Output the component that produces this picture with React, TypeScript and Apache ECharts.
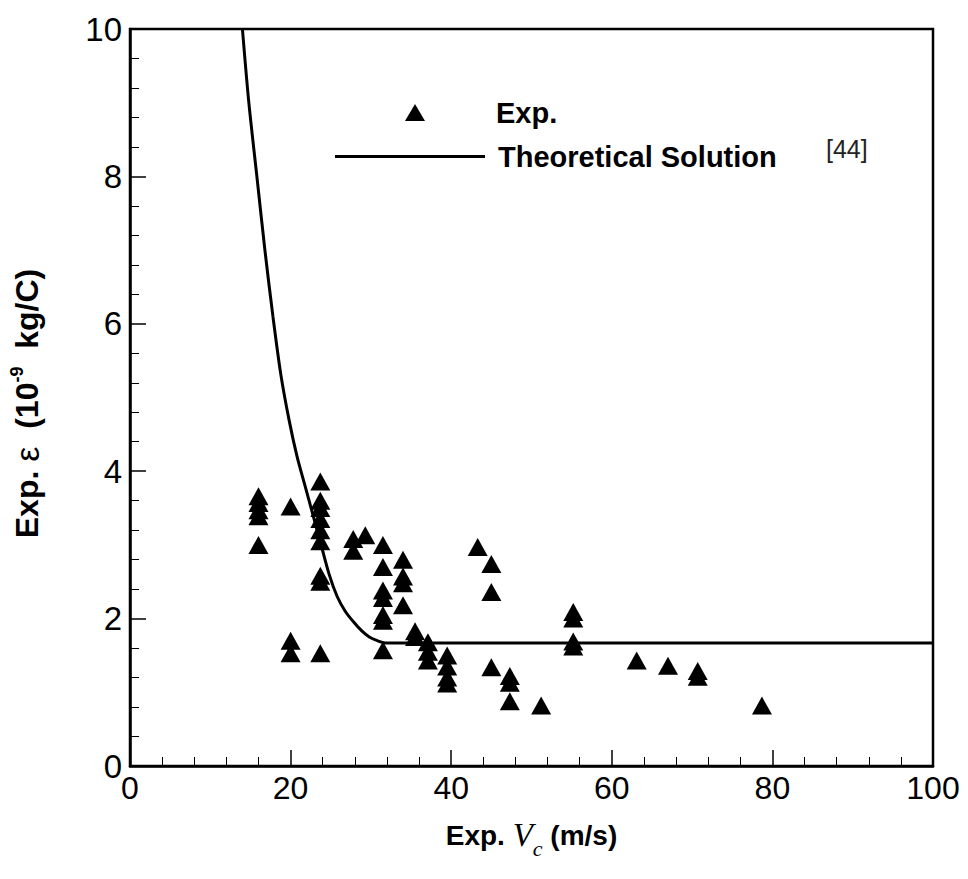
import React, { useEffect, useRef } from "react";
import * as echarts from "echarts";

// Experimental points: x = Exp. Vc (m/s), y = Exp. epsilon (1e-9 kg/C)
const expX: number[] = [
  16, 16, 16, 16, 16,
  20, 20, 20,
  23.7, 23.7, 23.7, 23.7, 23.7, 23.7, 23.7, 23.7, 23.7,
  27.8, 27.8, 29.3,
  31.5, 31.5, 31.5, 31.5, 31.5, 31.5, 31.5,
  34, 34, 34, 34,
  35.5, 35.5,
  37.1, 37.1, 37.1,
  39.5, 39.5, 39.5, 39.5,
  43.3, 45, 45, 45,
  47.3, 47.3, 47.3,
  51.2,
  55.2, 55.2, 55.2, 55.2,
  63.1, 67, 70.7, 70.7, 78.7,
];
const expY: number[] = [
  3.66, 3.57, 3.47, 3.39, 3.0,
  3.52, 1.7, 1.53,
  3.86, 3.6, 3.5, 3.35, 3.2, 3.05, 2.58, 2.5, 1.53,
  3.08, 2.92, 3.13,
  3.0, 2.7, 2.38, 2.28, 2.05, 1.97, 1.57,
  2.8, 2.57, 2.48, 2.18,
  1.83, 1.75,
  1.68, 1.55, 1.43,
  1.5, 1.35, 1.2, 1.12,
  2.97, 2.74, 2.36, 1.34,
  1.22, 1.13, 0.88,
  0.82,
  2.09, 2.0, 1.69, 1.62,
  1.43, 1.36, 1.29, 1.21, 0.82,
];

// Theoretical solution curve
const theoX: number[] = [
  14.0, 14.8, 15.8, 16.8, 17.8, 18.8, 19.8, 20.8, 21.8, 22.8, 23.8, 24.8,
  25.8, 26.8, 27.8, 28.8, 29.8, 30.8, 31.8, 100,
];
const theoY: number[] = [
  10, 9.0, 8.0, 7.0, 6.1, 5.3, 4.7, 4.2, 3.8, 3.4, 3.0, 2.6,
  2.3, 2.1, 1.96, 1.84, 1.75, 1.7, 1.67, 1.67,
];

const xTicks = { min: 0, max: 100, interval: 20 };
const yTicks = { min: 0, max: 10, interval: 2 };

export default function App() {
  const ref = useRef<HTMLDivElement>(null);
  useEffect(() => {
    if (!ref.current) return;
    const chart = echarts.init(ref.current, undefined, { renderer: "svg" });
    const font = "Liberation Sans, Arial, sans-serif";
    const legendText = {
      fontFamily: font,
      fontWeight: "bold",
      fontSize: 29,
      color: "#000",
    };
    const option: any = {
      animation: false,
      backgroundColor: "#fff",
      grid: {
        left: 130,
        right: 35,
        top: 29,
        bottom: 113,
        show: true,
        borderColor: "#000",
        borderWidth: 2.5,
        backgroundColor: "transparent",
      },
      legend: [
        {
          orient: "vertical",
          left: 400,
          top: 93,
          itemWidth: 20,
          itemHeight: 17,
          selectedMode: false,
          textStyle: { ...legendText, padding: [0, 0, 0, 66] },
          data: [{ name: "Exp.", icon: "triangle" }],
        },
        {
          orient: "vertical",
          left: 330,
          top: 137,
          itemWidth: 150,
          itemHeight: 3,
          selectedMode: false,
          textStyle: { ...legendText, padding: [0, 0, 0, 8] },
          data: [{ name: "Theoretical Solution", icon: "rect" }],
        },
      ],
      xAxis: {
        type: "value",
        min: xTicks.min,
        max: xTicks.max,
        interval: xTicks.interval,
        name: "{a|Exp. }{v|V}{s|c}{a| (m/s)}",
        nameLocation: "middle",
        nameGap: 45,
        nameTextStyle: {
          rich: {
            a: { fontFamily: font, fontWeight: "bold", fontSize: 28, color: "#000" },
            v: { fontFamily: "Liberation Serif, serif", fontStyle: "italic", fontSize: 33, color: "#000" },
            s: { fontFamily: "Liberation Serif, serif", fontStyle: "italic", fontSize: 22, color: "#000", padding: [26, 0, 0, 0] },
          },
        },
        axisLine: { show: true, lineStyle: { color: "#000", width: 2.5 } },
        axisTick: { show: true, inside: true, length: 16, lineStyle: { color: "#000", width: 1.5 } },
        minorTick: { show: true, splitNumber: 5, length: 9, lineStyle: { color: "#000", width: 1 } },
        splitLine: { show: false },
        axisLabel: { fontFamily: font, fontSize: 32, color: "#000", margin: 6 },
      },
      yAxis: {
        type: "value",
        min: yTicks.min,
        max: yTicks.max,
        interval: yTicks.interval,
        name: "{a|Exp. }{e|ε}{a|  (10}{p|-9}{a|  kg/C)}",
        nameLocation: "middle",
        nameGap: 84,
        nameTextStyle: {
          padding: [0, 12, 0, 0],
          rich: {
            a: { fontFamily: font, fontWeight: "bold", fontSize: 32, color: "#000", lineHeight: 38 },
            e: { fontFamily: font, fontSize: 34, color: "#000", lineHeight: 38 },
            p: { fontFamily: font, fontWeight: "bold", fontSize: 18, color: "#000", verticalAlign: "top", lineHeight: 38, padding: [0, 0, 16, 0] },
          },
        },
        axisLine: { show: true, lineStyle: { color: "#000", width: 2.5 } },
        axisTick: { show: true, inside: true, length: 16, lineStyle: { color: "#000", width: 1.5 } },
        minorTick: { show: true, splitNumber: 5, length: 9, lineStyle: { color: "#000", width: 1 } },
        splitLine: { show: false },
        axisLabel: { fontFamily: font, fontSize: 33, color: "#000", margin: 8 },
      },
      graphic: [
        {
          type: "text",
          left: 826,
          top: 136,
          style: { text: "[44]", fontFamily: font, fontSize: 25, fill: "#222" },
        },
      ],
      series: [
        {
          name: "Exp.",
          type: "scatter",
          symbol: "triangle",
          symbolSize: [20, 18],
          itemStyle: { color: "#000", opacity: 1 },
          data: expX.map((x, i) => [x, expY[i]]),
          z: 3,
        },
        {
          name: "Theoretical Solution",
          type: "line",
          smooth: 0.3,
          showSymbol: false,
          symbol: "none",
          lineStyle: { color: "#000", width: 3 },
          itemStyle: { color: "#000" },
          data: theoX.map((x, i) => [x, theoY[i]]),
          z: 2,
        },
      ],
    };
    chart.setOption(option);
    return () => chart.dispose();
  }, []);
  return (
    <div
      ref={ref}
      style={{ position: "fixed", left: 0, top: 0, width: 968, height: 879, background: "#fff" }}
    />
  );
}
